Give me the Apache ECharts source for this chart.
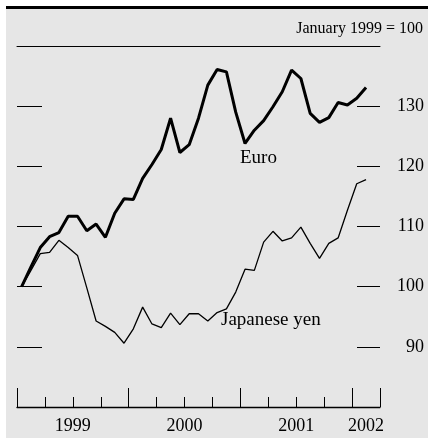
<!DOCTYPE html>
<html lang="en">

<head>
    <meta charset="UTF-8" />
    <title>Euro and yen</title>
    <script src="https://cdn.jsdelivr.net/npm/echarts@6/dist/echarts.min.js"></script>
    <style>
        * {
            margin: 0;
        }

        #chart {
            width: 428px;
            height: 438px;
            background-color: #fff;
        }
    </style>
</head>

<body>
    <div id="chart"></div>
    <script>
        // monthly index, January 1999 = 100, Jan 1999 .. Feb 2002
        const euro = [
            100, 103.3, 106.5, 108.3, 109.0, 111.7, 111.7, 109.3, 110.4, 108.2, 112.2, 114.6,
            114.5, 118.0, 120.3, 122.8, 128.0, 122.3, 123.6, 128.0, 133.5, 136.1, 135.7, 129.0,
            123.8, 126.0, 127.6, 129.9, 132.4, 136.0, 134.6, 128.8, 127.3, 128.1, 130.6, 130.2,
            131.3, 133.1,
        ];
        const yen = [
            100, 102.7, 105.5, 105.7, 107.7, 106.5, 105.2, 99.8, 94.3, 93.4, 92.4, 90.6,
            93.0, 96.6, 93.8, 93.2, 95.6, 93.7, 95.5, 95.5, 94.3, 95.7, 96.3, 99.1,
            102.9, 102.7, 107.4, 109.2, 107.6, 108.1, 109.9, 107.2, 104.7, 107.2, 108.1, 112.7,
            117.1, 117.8,
        ];
        const yearLabels = ["1999", "2000", "2001", "2002"];
        const yearLabelMonths = [6, 18, 30, 37.5];
        const quarterTicks = [3, 6, 9, 15, 18, 21, 27, 30, 33];
        const yearTicks = [0, 12, 24, 36, 39];
        const yTicks = [90, 100, 110, 120, 130];

        const font = '"Liberation Serif", "Times New Roman", serif';
        const toPoints = (arr) => arr.map((v, i) => [i + 0.5, v]);

        const chart = echarts.init(document.getElementById("chart"));
        const option = {
            animation: false,
            grid: { left: 17, right: 48, top: 46, bottom: 31 },
            graphic: [
                { type: "rect", z: -10, shape: { x: 6, y: 6, width: 422, height: 432 }, style: { fill: "#e6e6e6" } },
                { type: "rect", z: -9, shape: { x: 6, y: 6, width: 422, height: 3 }, style: { fill: "#000" } },
                {
                    type: "text", right: 5, top: 21,
                    style: { text: "January 1999 = 100", font: "16px " + font, fill: "#000" },
                },
                {
                    type: "text", left: 240, top: 149,
                    style: { text: "Euro", font: "19px " + font, fill: "#000" },
                },
                {
                    type: "text", left: 221, top: 311,
                    style: { text: "Japanese yen", font: "19px " + font, fill: "#000" },
                },
            ],
            xAxis: [
                {
                    type: "value", min: 0, max: 39, position: "bottom",
                    axisLine: { show: true, onZero: false, lineStyle: { color: "#000", width: 1.3 } },
                    axisTick: { show: true, inside: true, length: 10, customValues: quarterTicks, lineStyle: { color: "#000", width: 1 } },
                    axisLabel: {
                        customValues: yearLabelMonths, margin: 10, color: "#000", fontSize: 18, fontFamily: font,
                        formatter: (v) => yearLabels[yearLabelMonths.indexOf(v)],
                    },
                    splitLine: { show: false },
                },
                {
                    type: "value", min: 0, max: 39, position: "bottom",
                    axisLine: { show: false, onZero: false },
                    axisTick: { show: true, inside: true, length: 19, customValues: yearTicks, lineStyle: { color: "#000", width: 1 } },
                    axisLabel: { show: false },
                    splitLine: { show: false },
                },
                {
                    type: "value", min: 0, max: 39, position: "top",
                    axisLine: { show: true, onZero: false, lineStyle: { color: "#000", width: 1 } },
                    axisTick: { show: false },
                    axisLabel: { show: false },
                    splitLine: { show: false },
                },
            ],
            yAxis: [
                {
                    type: "value", min: 80, max: 140, position: "left",
                    axisLine: { show: false, onZero: false },
                    axisTick: { show: true, inside: true, length: 25, customValues: yTicks, lineStyle: { color: "#000", width: 1 } },
                    axisLabel: { show: false },
                    splitLine: { show: false },
                },
                {
                    type: "value", min: 80, max: 140, position: "right",
                    axisLine: { show: false, onZero: false },
                    axisTick: { show: true, inside: true, length: 23, customValues: yTicks, lineStyle: { color: "#000", width: 1 } },
                    axisLabel: {
                        customValues: yTicks, margin: 44, align: "right", color: "#000", fontSize: 18, fontFamily: font,
                    },
                    splitLine: { show: false },
                },
            ],
            series: [
                {
                    name: "Euro", type: "line", data: toPoints(euro), showSymbol: false,
                    lineStyle: { color: "#000", width: 3 },
                },
                {
                    name: "Japanese yen", type: "line", data: toPoints(yen), showSymbol: false,
                    lineStyle: { color: "#000", width: 1.3 },
                },
            ],
        };
        chart.setOption(option);
    </script>
</body>

</html>
